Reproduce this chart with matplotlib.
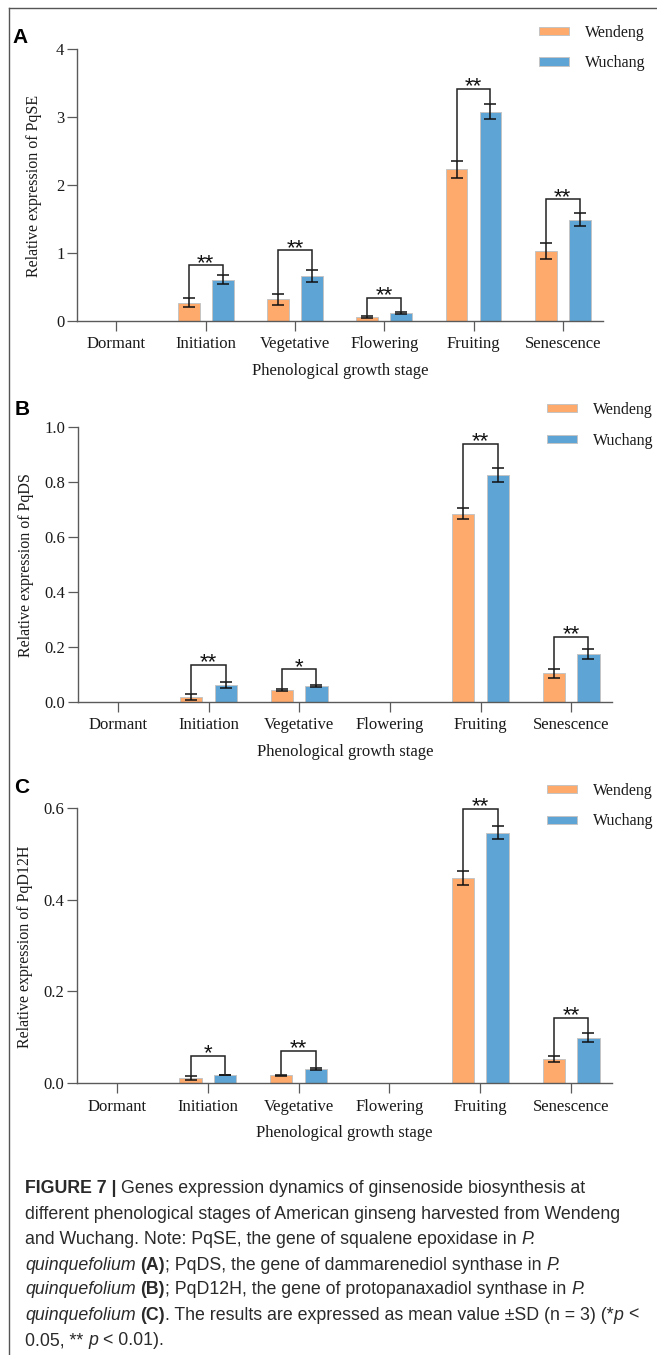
import numpy as np
import matplotlib
matplotlib.use("Agg")
import matplotlib.pyplot as plt
from matplotlib.patches import Rectangle
from matplotlib.lines import Line2D
from matplotlib.font_manager import FontProperties

# ---------------- data ----------------
stages = ["Dormant", "Initiation", "Vegetative", "Flowering", "Fruiting", "Senescence"]
series_names = ["Wendeng", "Wuchang"]

# Panel A: PqSE
a_wendeng = [0.0, 0.27, 0.32, 0.055, 2.23, 1.03]
a_wendeng_sd = [0.0, 0.07, 0.08, 0.012, 0.13, 0.12]
a_wuchang = [0.0, 0.61, 0.66, 0.12, 3.08, 1.49]
a_wuchang_sd = [0.0, 0.07, 0.085, 0.012, 0.11, 0.10]
a_sig = ["", "**", "**", "**", "**", "**"]
a_bracket = [0.0, 0.82, 1.04, 0.34, 3.41, 1.79]

# Panel B: PqDS
b_wendeng = [0.0, 0.018, 0.042, 0.0, 0.683, 0.103]
b_wendeng_sd = [0.0, 0.010, 0.003, 0.0, 0.020, 0.017]
b_wuchang = [0.0, 0.061, 0.057, 0.0, 0.824, 0.173]
b_wuchang_sd = [0.0, 0.012, 0.005, 0.0, 0.026, 0.017]
b_sig = ["", "**", "*", "", "**", "**"]
b_bracket = [0.0, 0.135, 0.118, 0.0, 0.937, 0.236]

# Panel C: PqD12H
c_wendeng = [0.0, 0.011, 0.017, 0.0, 0.447, 0.053]
c_wendeng_sd = [0.0, 0.004, 0.002, 0.0, 0.016, 0.0065]
c_wuchang = [0.0, 0.018, 0.031, 0.0, 0.546, 0.099]
c_wuchang_sd = [0.0, 0.001, 0.003, 0.0, 0.015, 0.010]
c_sig = ["", "*", "**", "", "**", "**"]
c_bracket = [0.0, 0.060, 0.070, 0.0, 0.598, 0.143]

ylabels = ["Relative expression of PqSE", "Relative expression of PqDS",
           "Relative expression of PqD12H"]
panel_letters = ["A", "B", "C"]
yticks_list = [[0, 1, 2, 3, 4], [0.0, 0.2, 0.4, 0.6, 0.8, 1.0], [0.0, 0.2, 0.4, 0.6]]
yticklabels_list = [["0", "1", "2", "3", "4"],
                    ["0.0", "0.2", "0.4", "0.6", "0.8", "1.0"],
                    ["0.0", "0.2", "0.4", "0.6"]]
xlabel = "Phenological growth stage"

caption_lines = [
    [("FIGURE 7 |", "bold"), (" Genes expression dynamics of ginsenoside biosynthesis at", "normal")],
    [("different phenological stages of American ginseng harvested from Wendeng", "normal")],
    [("and Wuchang. Note: PqSE, the gene of squalene epoxidase in ", "normal"), ("P.", "italic")],
    [("quinquefolium", "italic"), (" ", "normal"), ("(A)", "bold"),
     ("; PqDS, the gene of dammarenediol synthase in ", "normal"), ("P.", "italic")],
    [("quinquefolium", "italic"), (" ", "normal"), ("(B)", "bold"),
     ("; PqD12H, the gene of protopanaxadiol synthase in ", "normal"), ("P.", "italic")],
    [("quinquefolium", "italic"), (" ", "normal"), ("(C)", "bold"),
     (". The results are expressed as mean value \u00b1SD (n = 3) (*", "normal"), ("p", "italic"), (" <", "normal")],
    [("0.05, ** ", "normal"), ("p", "italic"), (" < 0.01).", "normal")],
]

# ---------------- style ----------------
W, H = 657, 1355
ORANGE = "#FDAA6C"
BLUE = "#5EA5D6"
EDGE = "#C4C4C4"
SPINE = "#5a5a5a"
SERIF = ["Liberation Serif", "DejaVu Serif"]
SANS = ["Liberation Sans", "DejaVu Sans"]

plt.rcParams["font.family"] = SERIF

fig = plt.figure(figsize=(W / 100, H / 100), dpi=100)
fig.patch.set_facecolor("white")


def fx(x):
    return x / W


def fy(y):
    return 1 - y / H


panels = [
    dict(rect=(77, 603, 49, 321), ylim=(0, 4),
         wen=a_wendeng, wen_sd=a_wendeng_sd, wuc=a_wuchang, wuc_sd=a_wuchang_sd,
         sig=a_sig, br=a_bracket, ylab_x=-0.066, letter_xy=(12.5, 43.3),
         leg=dict(px=539, tx=585, rows=(31, 61.5), base=(37, 67))),
    dict(rect=(78, 612, 426.7, 701.7), ylim=(0, 1.0),
         wen=b_wendeng, wen_sd=b_wendeng_sd, wuc=b_wuchang, wuc_sd=b_wuchang_sd,
         sig=b_sig, br=b_bracket, ylab_x=-0.082, letter_xy=(14.5, 415),
         leg=dict(px=547, tx=593, rows=(408, 439), base=(413.7, 444.7))),
    dict(rect=(77, 612, 807.7, 1083.3), ylim=(0, 0.6),
         wen=c_wendeng, wen_sd=c_wendeng_sd, wuc=c_wuchang, wuc_sd=c_wuchang_sd,
         sig=c_sig, br=c_bracket, ylab_x=-0.082, letter_xy=(14.5, 793.3),
         leg=dict(px=547, tx=593, rows=(788.7, 819.5), base=(794.7, 825.4))),
]

x = np.arange(len(stages))
bw = 0.245
off = 0.19

for k, p in enumerate(panels):
    l, r, t, b = p["rect"]
    ax = fig.add_axes([fx(l), fy(b), (r - l) / W, (b - t) / H])
    ax.set_xlim(-0.44, 5.45)
    ax.set_ylim(*p["ylim"])
    for s in ["top", "right"]:
        ax.spines[s].set_visible(False)
    for s in ["left", "bottom"]:
        ax.spines[s].set_color(SPINE)
        ax.spines[s].set_linewidth(1.0)
    ax.tick_params(axis="both", direction="out", length=7.5, width=0.9, color=SPINE,
                   labelsize=12, labelcolor="#1a1a1a")
    ax.tick_params(axis="x", pad=3.5)
    ax.tick_params(axis="y", pad=1.5)
    ax.set_xticks(x)
    ax.set_xticklabels(stages)
    ax.set_yticks(yticks_list[k])
    ax.set_yticklabels(yticklabels_list[k])

    wen = np.array(p["wen"]); wen_sd = np.array(p["wen_sd"])
    wuc = np.array(p["wuc"]); wuc_sd = np.array(p["wuc_sd"])
    m1 = wen > 0
    m2 = wuc > 0
    ax.bar(x[m1] - off, wen[m1], bw, color=ORANGE, edgecolor=EDGE, linewidth=0.7, zorder=2)
    ax.bar(x[m2] + off, wuc[m2], bw, color=BLUE, edgecolor=EDGE, linewidth=0.7, zorder=2)
    ax.errorbar(x[m1] - off, wen[m1], yerr=wen_sd[m1], fmt="none", ecolor="#111111",
                elinewidth=1.1, capsize=4.2, capthick=1.1, zorder=3)
    ax.errorbar(x[m2] + off, wuc[m2], yerr=wuc_sd[m2], fmt="none", ecolor="#111111",
                elinewidth=1.1, capsize=4.2, capthick=1.1, zorder=3)

    for i, lab in enumerate(p["sig"]):
        if not lab:
            continue
        yb = p["br"][i]
        y1 = wen[i] + wen_sd[i]
        y2 = wuc[i] + wuc_sd[i]
        ax.plot([i - off, i - off, i + off, i + off], [y1, yb, yb, y2],
                color="#222222", lw=1.1, clip_on=False, zorder=4,
                solid_joinstyle="miter")
        ax.annotate(lab, (i, yb), xytext=(0, -2.5), textcoords="offset points",
                    ha="center", va="baseline", fontsize=16, family=SANS,
                    color="#111111", annotation_clip=False)

    ax.set_ylabel(ylabels[k], fontsize=11.5, color="#1a1a1a")
    ax.yaxis.set_label_coords(p["ylab_x"], 0.497)
    ax.set_xlabel(xlabel, fontsize=12, color="#1a1a1a")
    ax.xaxis.set_label_coords(0.5, -0.153)

    # panel letter
    lx, ly = p["letter_xy"]
    fig.text(fx(lx), fy(ly), panel_letters[k], fontsize=15, fontweight="bold",
             family=SANS, ha="left", va="baseline")

    # legend
    lg = p["leg"]
    for j, (name, col) in enumerate(zip(series_names, [ORANGE, BLUE])):
        cy = lg["rows"][j]
        fig.add_artist(Rectangle((fx(lg["px"]), fy(cy + 4)), 30 / W, 8 / H,
                                 transform=fig.transFigure, facecolor=col,
                                 edgecolor=EDGE, linewidth=0.7))
        fig.text(fx(lg["tx"]), fy(lg["base"][j]), name, fontsize=11.5,
                 ha="left", va="baseline", color="#1a1a1a")

# figure frame (top and left rules)
fig.add_artist(Line2D([fx(9), fx(W)], [fy(8), fy(8)], transform=fig.transFigure,
                      color="#555555", lw=1.0))
fig.add_artist(Line2D([fx(9), fx(9)], [fy(8), fy(H)], transform=fig.transFigure,
                      color="#555555", lw=1.0))

# caption
renderer = fig.canvas.get_renderer()
cap_size = 12.8


def fp_for(style):
    if style == "bold":
        return FontProperties(family=SANS, size=cap_size, weight="bold")
    if style == "italic":
        return FontProperties(family=SANS, size=cap_size, style="italic")
    return FontProperties(family=SANS, size=cap_size)


def text_w(s, fp):
    if not s:
        return 0.0
    w, _, _ = renderer.get_text_width_height_descent(s, fp, ismath=False)
    return w


def space_w(fp):
    return text_w("a a", fp) - text_w("aa", fp)


baselines = [1193.3, 1219, 1244.5, 1269.5, 1294.5, 1319.5, 1345]
for line, yb in zip(caption_lines, baselines):
    xp = 25.0
    for s, style in line:
        fp = fp_for(style)
        sw = space_w(fp)
        core = s.strip(" ")
        if not core:
            xp += len(s) * sw
            continue
        lead = len(s) - len(s.lstrip(" "))
        trail = len(s) - len(s.rstrip(" "))
        xp += lead * sw
        fig.text(fx(xp), fy(yb), core, fontproperties=fp, ha="left",
                 va="baseline", color="#2a2a2a")
        xp += text_w(core, fp)
        xp += trail * sw

fig.savefig("out.png", dpi=100, facecolor="white")
